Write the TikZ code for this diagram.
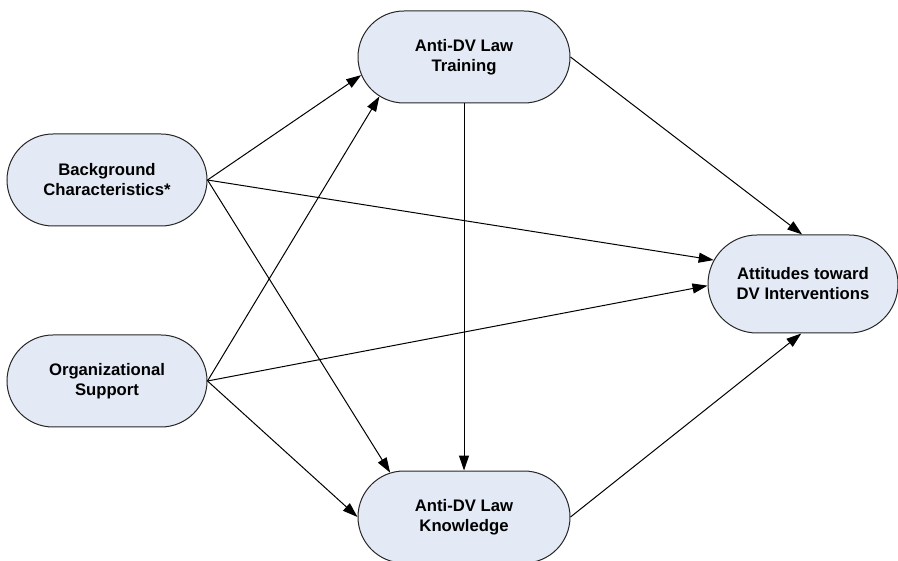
\documentclass[tikz,border=0pt]{standalone}
\usepackage{fontspec}
\setmainfont{Liberation Sans}
\usetikzlibrary{shapes.misc,arrows.meta}
\definecolor{boxfill}{HTML}{E3EAF5}
\tikzset{
  factor/.style={rounded rectangle, draw=black!85, line width=0.02cm, fill=boxfill,
    minimum width=4cm, minimum height=1.84cm, align=center, inner sep=0pt,
    font=\fontsize{9.5}{11.4}\selectfont\bfseries},
  path/.style={line width=0.02cm, -{Triangle[length=0.3cm,width=0.2cm]}}
}
\begin{document}
\begin{tikzpicture}
  \useasboundingbox (0,0) rectangle (17.96,11.2);

  % Marking the factors
  \node [factor] (bg) at (2.14,7.6) {Background\\Characteristics*};
  \node [factor] (org) at (2.14,3.58) {Organizational\\Support};
  \node [factor, minimum width=4.24cm] (train) at (9.28,10.06) {Anti-DV Law\\Training};
  \node [factor, minimum width=4.24cm] (know) at (9.28,0.86) {Anti-DV Law\\Knowledge};
  \node [factor, minimum width=3.8cm, minimum height=1.96cm] (att) at (16.06,5.52) {Attitudes toward\\DV Interventions};

  % Drawing paths from background characteristics
  \draw [path] (bg.east) -- (train.190);
  \draw [path] (bg.east) -- (att.165);
  \draw [path] (bg.east) -- (know.149);

  % Drawing paths from organizational support
  \draw [path] (org.east) -- (train.205);
  \draw [path] (org.east) -- (att.181);
  \draw [path] (org.east) -- (know.west);

  % Drawing paths between training, knowledge and attitudes
  \draw [path] (train.south) -- (know.north);
  \draw [path] (train.east) -- (att.91);
  \draw [path] (know.east) -- (att.268);
\end{tikzpicture}
\end{document}
